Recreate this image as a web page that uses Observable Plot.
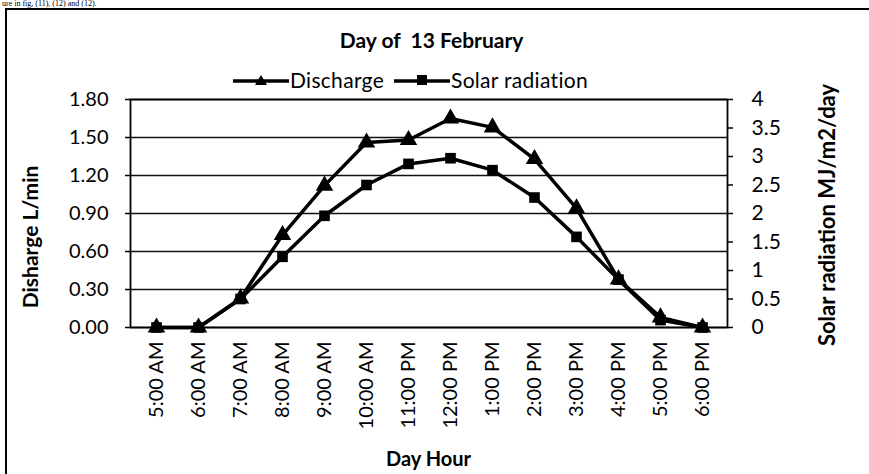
<!DOCTYPE html>
<html>
<head>
<meta charset="utf-8">
<script src="https://cdn.jsdelivr.net/npm/d3@7"></script>
<script src="https://cdn.jsdelivr.net/npm/@observablehq/plot@0.6"></script>
<style>
  html, body { margin: 0; padding: 0; background: #fff; }
  #wrap { position: relative; width: 869px; height: 474px; overflow: hidden; font-family: Lato, "Open Sans", sans-serif; color: #000; }
  #wrap > * { position: absolute; }
  #frame { left: 5px; top: 8px; width: 900px; height: 500px; border-left: 2px solid #000; border-top: 2px solid #000; }
  #cut { left: 2px; top: -1px; font-family: "Liberation Serif", serif; font-size: 8px; line-height: 9px; white-space: nowrap; }
  #chart { left: 0; top: 0; }
  #title { left: 0; width: 863px; top: 27px; text-align: center; font-weight: 700; font-size: 21px; }
  #legend { left: 233px; top: 67px; display: flex; align-items: center; font-size: 21px; letter-spacing: 0.3px; white-space: nowrap; }
  #legend .item { display: flex; align-items: center; margin-right: 10px; }
  #legend svg { margin-right: 1px; }
  .ytitle { font-weight: 700; white-space: nowrap; transform: translate(-50%, -50%) rotate(-90deg); }
  #xtitle { left: 0; width: 857px; top: 446px; text-align: center; font-weight: 700; font-size: 20px; }
</style>
</head>
<body>
<div id="wrap">
  <div id="cut">ure in fig, (11), (12) and (12).</div>
  <div id="frame"></div>
  <div id="chart"></div>
  <div id="title">Day of&nbsp;&nbsp;13 February</div>
  <div id="legend"></div>
  <div class="ytitle" style="left:29px; top:237px; font-size:21px;">Disharge L/min</div>
  <div class="ytitle" style="left:826px; top:215px; font-size:22px;">Solar radiation MJ/m2/day</div>
  <div id="xtitle">Day Hour</div>
</div>
<script>
// ---- data ----
const hours = ["5:00 AM","6:00 AM","7:00 AM","8:00 AM","9:00 AM","10:00 AM","11:00 PM","12:00 PM","1:00 PM","2:00 PM","3:00 PM","4:00 PM","5:00 PM","6:00 PM"];
const discharge = [0, 0, 0.23, 0.73, 1.12, 1.46, 1.48, 1.65, 1.58, 1.33, 0.94, 0.38, 0.08, 0];
const solar = [0, 0, 0.5, 1.24, 1.96, 2.5, 2.87, 2.97, 2.76, 2.28, 1.59, 0.84, 0.13, 0];
const leftTicks = [0, 0.3, 0.6, 0.9, 1.2, 1.5, 1.8];
const rightTicks = [0, 0.5, 1, 1.5, 2, 2.5, 3, 3.5, 4];
const seriesNames = ["Discharge", "Solar radiation"];

const leftMax = 1.8, rightMax = 4;
const k = leftMax / rightMax; // map right axis values to left scale

const data = hours.map((h, i) => ({h, d: discharge[i], s: solar[i] * k}));

const chart = Plot.plot({
  width: 869,
  height: 474,
  marginLeft: 130,
  marginRight: 142,
  marginTop: 99,
  marginBottom: 147,
  style: {fontFamily: "Lato, 'Open Sans', sans-serif", fontSize: "20px", color: "#000", background: "transparent", overflow: "visible"},
  x: {type: "point", domain: hours, padding: 0.5},
  y: {domain: [0, leftMax]},
  marks: [
    Plot.gridY(leftTicks, {stroke: "#111", strokeWidth: 1.7, strokeOpacity: 1}),
    Plot.frame({stroke: "#000", strokeWidth: 1.8}),
    Plot.axisY(leftTicks, {anchor: "left", tickSize: 5, tickPadding: 17, tickFormat: d => d.toFixed(2), label: null, strokeWidth: 1.5}),
    Plot.axisY(rightTicks.map(v => v * k), {anchor: "right", tickSize: 5, tickPadding: 19, fontSize: 21, tickFormat: d => String(+(d / k).toFixed(2)), label: null, strokeWidth: 1.5}),
    Plot.axisX({tickSize: 0, tickPadding: 14, tickRotate: -90, label: null}),
    Plot.line(data, {x: "h", y: "d", stroke: "#000", strokeWidth: 3.5}),
    Plot.dot(data, {x: "h", y: "d", symbol: "triangle", r: 6.5, fill: "#000", stroke: "none"}),
    Plot.line(data, {x: "h", y: "s", stroke: "#000", strokeWidth: 3.5}),
    Plot.dot(data, {x: "h", y: "s", symbol: "square", r: 6, fill: "#000", stroke: "none"})
  ]
});
document.getElementById("chart").appendChild(chart);

// legend
const legend = document.getElementById("legend");
const shapes = [
  '<polygon points="28,4 34,14 22,14" fill="#000"/>',
  '<rect x="23" y="4" width="10" height="10" fill="#000"/>'
];
seriesNames.forEach((name, i) => {
  const item = document.createElement("div");
  item.className = "item";
  item.innerHTML = `<svg width="56" height="18"><line x1="0" y1="10" x2="56" y2="10" stroke="#000" stroke-width="3.5"/>${shapes[i]}</svg><span>${name}</span>`;
  legend.appendChild(item);
});
</script>
</body>
</html>
